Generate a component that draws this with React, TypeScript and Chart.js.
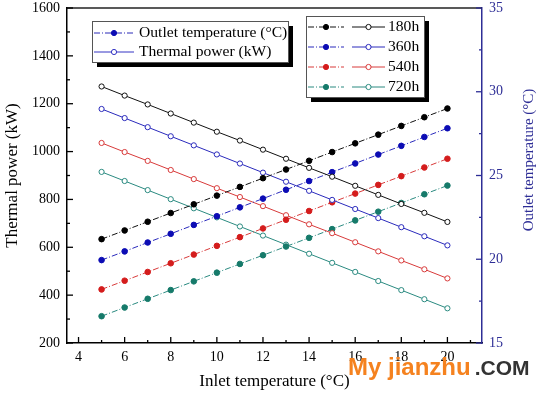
import React, { useEffect, useRef } from 'react';
import { Chart, registerables } from 'chart.js';

Chart.register(...registerables);

const inletTemps = [5, 6, 7, 8, 9, 10, 11, 12, 13, 14, 15, 16, 17, 18, 19, 20];
const hourLabels = ['180h', '360h', '540h', '720h'];

const power180 = [1272, 1234, 1197, 1159, 1121, 1083, 1046, 1008, 970, 932, 895, 857, 819, 781, 744, 706];
const power360 = [1178, 1140, 1102, 1064, 1026, 988, 950, 912, 874, 836, 798, 760, 722, 684, 646, 608];
const power540 = [1036, 998, 961, 923, 885, 847, 810, 772, 734, 696, 659, 621, 583, 545, 508, 470];
const power720 = [915, 877, 839, 801, 763, 725, 687, 649, 611, 573, 535, 497, 459, 421, 383, 345];

const outlet180 = [21.2, 21.72, 22.24, 22.76, 23.28, 23.8, 24.32, 24.84, 25.36, 25.88, 26.4, 26.92, 27.44, 27.96, 28.48, 29.0];
const outlet360 = [19.95, 20.47, 21.0, 21.52, 22.05, 22.57, 23.1, 23.62, 24.15, 24.67, 25.2, 25.72, 26.25, 26.77, 27.3, 27.82];
const outlet540 = [18.2, 18.72, 19.24, 19.76, 20.28, 20.8, 21.32, 21.84, 22.36, 22.88, 23.4, 23.92, 24.44, 24.96, 25.48, 26.0];
const outlet720 = [16.6, 17.12, 17.64, 18.16, 18.68, 19.2, 19.72, 20.24, 20.76, 21.28, 21.8, 22.32, 22.84, 23.36, 23.88, 24.4];

const xTicks = [4, 6, 8, 10, 12, 14, 16, 18, 20];
const xMinorTicks = [5, 7, 9, 11, 13, 15, 17, 19, 21];
const leftTicks = [200, 400, 600, 800, 1000, 1200, 1400, 1600];
const leftMinorTicks = [300, 500, 700, 900, 1100, 1300, 1500];
const rightTicks = [15, 20, 25, 30, 35];
const rightMinorTicks = [17.5, 22.5, 27.5, 32.5];

const dotColors = ['#000000', '#0c0cb4', '#d41c1c', '#167a6a'];
const lineColors = ['#111111', '#2a2abc', '#d83a3a', '#2a8a80'];
const rightAxisColor = '#2e2e96';
const SERIF = "'Liberation Serif', 'Times New Roman', serif";
const DASH = [6, 2, 1, 2];

const powers = [power180, power360, power540, power720];
const outlets = [outlet180, outlet360, outlet540, outlet720];

const toXY = (vals: number[]) => inletTemps.map((t, i) => ({ x: t, y: vals[i] }));
const plain = (v: any) => String(v);

const decorPlugin = {
  id: 'decor',
  afterDraw(chart: any) {
    const { ctx, chartArea, scales } = chart;
    const { left, right, top, bottom } = chartArea;
    ctx.save();
    ctx.strokeStyle = '#222';
    ctx.lineWidth = 1.5;
    ctx.beginPath();
    ctx.moveTo(left, top);
    ctx.lineTo(right, top);
    ctx.stroke();

    const seg = (x1: number, y1: number, x2: number, y2: number, c: string) => {
      ctx.strokeStyle = c;
      ctx.lineWidth = 1.3;
      ctx.beginPath();
      ctx.moveTo(x1, y1);
      ctx.lineTo(x2, y2);
      ctx.stroke();
    };
    xTicks.forEach(v => { const p = scales.x.getPixelForValue(v); seg(p, bottom, p, bottom - 6, '#000'); });
    xMinorTicks.forEach(v => { const p = scales.x.getPixelForValue(v); seg(p, bottom, p, bottom - 3, '#000'); });
    leftTicks.forEach(v => { const p = scales.y.getPixelForValue(v); seg(left, p, left + 6, p, '#000'); });
    leftMinorTicks.forEach(v => { const p = scales.y.getPixelForValue(v); seg(left, p, left + 3, p, '#000'); });
    rightTicks.forEach(v => { const p = scales.y2.getPixelForValue(v); seg(right, p, right - 6, p, rightAxisColor); });
    rightMinorTicks.forEach(v => { const p = scales.y2.getPixelForValue(v); seg(right, p, right - 3, p, rightAxisColor); });

    ctx.save();
    ctx.translate(529, 160);
    ctx.rotate(-Math.PI / 2);
    ctx.fillStyle = rightAxisColor;
    ctx.font = `15px ${SERIF}`;
    ctx.textAlign = 'center';
    ctx.textBaseline = 'middle';
    ctx.fillText('Outlet temperature (°C)', 0, 0);
    ctx.restore();

    const box = (x: number, y: number, w: number, h: number) => {
      ctx.fillStyle = '#000';
      ctx.fillRect(x + 5, y + 5, w, h);
      ctx.fillStyle = '#fff';
      ctx.fillRect(x, y, w, h);
      ctx.strokeStyle = '#555';
      ctx.lineWidth = 1;
      ctx.strokeRect(x + 0.5, y + 0.5, w, h);
    };
    const sample = (x1: number, x2: number, y: number, color: string, dashed: boolean, filled: boolean, dotColor: string) => {
      ctx.strokeStyle = color;
      ctx.lineWidth = 1;
      ctx.setLineDash(dashed ? DASH : []);
      ctx.beginPath();
      ctx.moveTo(x1, y);
      ctx.lineTo(x2, y);
      ctx.stroke();
      ctx.setLineDash([]);
      ctx.beginPath();
      ctx.arc((x1 + x2) / 2, y, 2.6, 0, Math.PI * 2);
      ctx.fillStyle = filled ? dotColor : '#fff';
      ctx.fill();
      ctx.strokeStyle = filled ? dotColor : color;
      ctx.stroke();
    };

    box(92, 21, 196, 41);
    sample(94, 134, 33, '#2a2ab8', true, true, '#0c0cb4');
    sample(94, 134, 52, '#3434c4', false, false, '#3434c4');
    ctx.fillStyle = '#000';
    ctx.font = `15.6px ${SERIF}`;
    ctx.textAlign = 'left';
    ctx.textBaseline = 'middle';
    ctx.fillText('Outlet temperature (°C)', 139, 33);
    ctx.fillText('Thermal power (kW)', 139, 52);

    box(306, 16, 118, 81);
    hourLabels.forEach((lab, i) => {
      const y = 27 + i * 20;
      sample(308, 344, y, lineColors[i], true, true, dotColors[i]);
      sample(352, 385, y, lineColors[i], false, false, dotColors[i]);
      ctx.fillStyle = '#000';
      ctx.font = `15.6px ${SERIF}`;
      ctx.textAlign = 'left';
      ctx.textBaseline = 'middle';
      ctx.fillText(lab, 388, y);
    });
    ctx.restore();
  },
};

const fitVertical = (w: number) => (s: any) => {
  s.width = w;
  s.paddingTop = 0;
  s.paddingBottom = 0;
};

export default function App() {
  const ref = useRef<HTMLCanvasElement>(null);
  useEffect(() => {
    if (!ref.current) return;
    const datasets: any[] = [];
    hourLabels.forEach((lab, i) => {
      datasets.push({
        label: `Outlet ${lab}`,
        data: toXY(outlets[i]),
        yAxisID: 'y2',
        borderColor: lineColors[i],
        borderWidth: 1,
        borderDash: DASH,
        pointRadius: 2.8,
        pointBackgroundColor: dotColors[i],
        pointBorderColor: dotColors[i],
        pointBorderWidth: 1,
        tension: 0,
      });
      datasets.push({
        label: `Power ${lab}`,
        data: toXY(powers[i]),
        yAxisID: 'y',
        borderColor: lineColors[i],
        borderWidth: 1,
        pointRadius: 2.6,
        pointBackgroundColor: '#ffffff',
        pointBorderColor: lineColors[i],
        pointBorderWidth: 1,
        tension: 0,
      });
    });
    const tickFont = { family: SERIF, size: 14 };
    const titleFont = { family: SERIF, size: 17 };
    const chart = new Chart(ref.current, {
      type: 'line',
      data: { datasets },
      options: {
        animation: false,
        responsive: false,
        maintainAspectRatio: false,
        layout: { padding: { top: 8, left: 0, right: 0, bottom: 0 } },
        plugins: { legend: { display: false }, tooltip: { enabled: false } },
        scales: {
          x: {
            type: 'linear',
            min: 3.5,
            max: 21.5,
            afterBuildTicks: (s: any) => { s.ticks = xTicks.map(v => ({ value: v })); },
            afterFit: (s: any) => { s.height = 52; s.paddingLeft = 0; s.paddingRight = 0; },
            grid: { display: false, drawTicks: false },
            border: { display: true, color: '#000', width: 1.5 },
            ticks: { font: tickFont, color: '#000', padding: 6, maxRotation: 0, autoSkip: false, callback: plain },
            title: { display: true, text: 'Inlet temperature (°C)', font: titleFont, color: '#000', padding: { top: 0, bottom: 3 } },
          },
          y: {
            type: 'linear',
            position: 'left',
            min: 200,
            max: 1600,
            afterBuildTicks: (s: any) => { s.ticks = leftTicks.map(v => ({ value: v })); },
            afterFit: fitVertical(67),
            grid: { display: false, drawTicks: false },
            border: { display: true, color: '#000', width: 1.5 },
            ticks: { font: tickFont, color: '#000', padding: 7, callback: plain },
            title: { display: true, text: 'Thermal power (kW)', font: titleFont, color: '#000', padding: { top: 2, bottom: 0 } },
          },
          y2: {
            type: 'linear',
            position: 'right',
            min: 15,
            max: 35,
            afterBuildTicks: (s: any) => { s.ticks = rightTicks.map(v => ({ value: v })); },
            afterFit: fitVertical(60),
            grid: { display: false, drawTicks: false },
            border: { display: true, color: rightAxisColor, width: 1.5 },
            ticks: { font: tickFont, color: rightAxisColor, padding: 7, callback: plain },
            title: { display: false },
          },
        },
      } as any,
      plugins: [decorPlugin],
    });
    return () => chart.destroy();
  }, []);

  return (
    <div style={{ position: 'absolute', left: 0, top: 0, width: 542, height: 395, background: '#fff' }}>
      <canvas ref={ref} width={542} height={395} style={{ width: 542, height: 395, display: 'block' }} />
      <div style={{ position: 'absolute', left: 348, top: 355, fontFamily: "'Liberation Sans', Arial, sans-serif", fontWeight: 'bold', whiteSpace: 'nowrap', lineHeight: 1 }}>
        <span style={{ color: '#f5821f', fontSize: 24 }}>My jianzhu</span>
        <span style={{ color: '#333333', fontSize: 21, marginLeft: 4 }}>.COM</span>
      </div>
    </div>
  );
}
